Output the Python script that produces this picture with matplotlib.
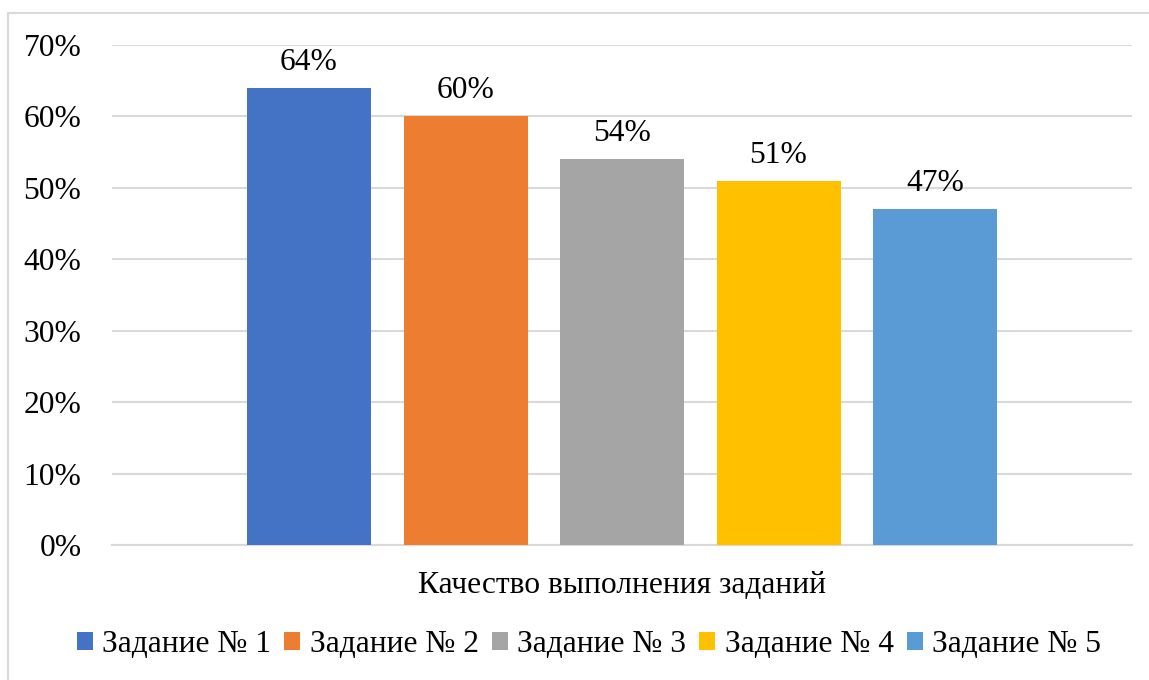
import matplotlib.pyplot as plt
from matplotlib.patches import Rectangle

categories = ["Задание № 1", "Задание № 2", "Задание № 3", "Задание № 4", "Задание № 5"]
values = [64, 60, 54, 51, 47]
colors = ["#4472C4", "#ED7D31", "#A5A5A5", "#FFC000", "#5B9BD5"]
group_label = "Качество выполнения заданий"
ticks = [0, 10, 20, 30, 40, 50, 60, 70]

plt.rcParams["font.family"] = ["Liberation Serif", "DejaVu Serif"]
fs = 22.7

fig = plt.figure(figsize=(11.49, 6.8), dpi=100)
ax = fig.add_axes([112 / 1149, 1 - 545 / 680, (1132 - 112) / 1149, 500 / 680])

# outer chart border
fig.patches.append(Rectangle((8 / 1149, -0.1), 1.2, 1 - 13 / 680 + 0.1,
                             transform=fig.transFigure, fill=False,
                             edgecolor="#D9D9D9", linewidth=1.5))

width = 124 / 1020
step = 156.5 / 1020
x = [0.5 + (i - 2) * step for i in range(len(values))]
for xi, v, c, lab in zip(x, values, colors, categories):
    ax.bar(xi, v, width, color=c, label=lab, zorder=3)
    ax.annotate(f"{v}%", xy=(xi, v), xytext=(0, 8), textcoords="offset points",
                ha="center", va="bottom", fontsize=fs)

ax.set_xlim(0, 1)
ax.set_ylim(0, 70)
ax.set_yticks(ticks)
ax.set_yticklabels([f"{t}%" for t in ticks], fontsize=fs)
ax.tick_params(axis="y", length=0, pad=22)
ax.set_xticks([0.5])
ax.set_xticklabels([group_label], fontsize=fs)
ax.tick_params(axis="x", length=0, pad=19)
ax.grid(axis="y", color="#D9D9D9", linewidth=1.5, zorder=0)
for s in ["top", "right", "left"]:
    ax.spines[s].set_visible(False)
ax.spines["bottom"].set_color("#D9D9D9")
ax.spines["bottom"].set_linewidth(1.5)

fig.legend(loc="center", bbox_to_anchor=(589 / 1149, 1 - 645 / 680), ncol=5,
           frameon=False, fontsize=fs, handlelength=0.5, handleheight=0.5,
           handletextpad=0.3, columnspacing=0.42)

fig.savefig("out.png", dpi=100)
